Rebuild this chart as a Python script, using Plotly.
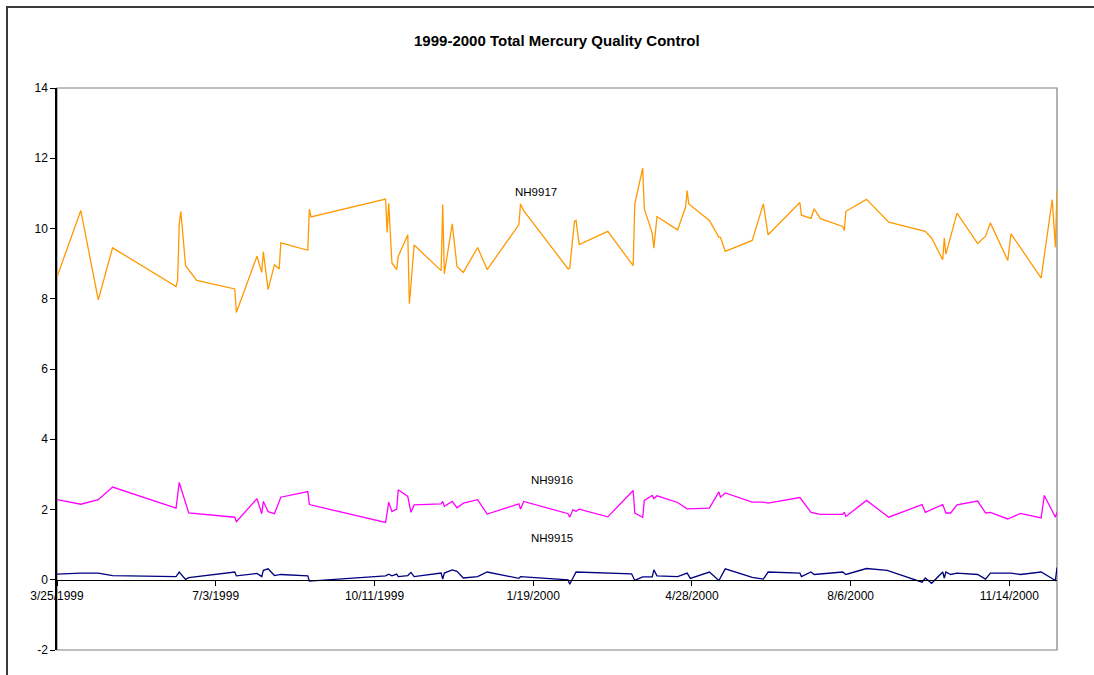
import plotly.graph_objects as go

# ---------------- data ----------------
dates_nh9917 = [
    "1999-03-25", "1999-04-09", "1999-04-20", "1999-04-29", "1999-06-08", "1999-06-09",
    "1999-06-10", "1999-06-11", "1999-06-14", "1999-06-21", "1999-07-15", "1999-07-16",
    "1999-07-29", "1999-08-01", "1999-08-02", "1999-08-05", "1999-08-09", "1999-08-12",
    "1999-08-13", "1999-08-30", "1999-08-31", "1999-09-01", "1999-10-18", "1999-10-19",
    "1999-10-20", "1999-10-22", "1999-10-25", "1999-10-26", "1999-11-01", "1999-11-02",
    "1999-11-03", "1999-11-05", "1999-11-22", "1999-11-23", "1999-11-24", "1999-11-29",
    "1999-12-02", "1999-12-06", "1999-12-15", "1999-12-21", "2000-01-10", "2000-01-11",
    "2000-01-13", "2000-02-10", "2000-02-11", "2000-02-14", "2000-02-15", "2000-02-17",
    "2000-03-06", "2000-03-22", "2000-03-23", "2000-03-28", "2000-03-29", "2000-04-03",
    "2000-04-04", "2000-04-06", "2000-04-19", "2000-04-24", "2000-04-25", "2000-04-26",
    "2000-05-09", "2000-05-15", "2000-05-16", "2000-05-19", "2000-06-05", "2000-06-12",
    "2000-06-15", "2000-07-05", "2000-07-06", "2000-07-12", "2000-07-14", "2000-07-18",
    "2000-08-01", "2000-08-02", "2000-08-03", "2000-08-16", "2000-08-30", "2000-09-22",
    "2000-09-26", "2000-10-03", "2000-10-04", "2000-10-05", "2000-10-12", "2000-10-25",
    "2000-10-30", "2000-11-02", "2000-11-13", "2000-11-15", "2000-12-04", "2000-12-11",
    "2000-12-13", "2000-12-14",
]
values_nh9917 = [
    8.62, 10.51, 7.97, 9.45, 8.35, 8.52,
    10.11, 10.49, 8.94, 8.52, 8.28, 7.61,
    9.21, 8.75, 9.34, 8.26, 8.97, 8.85,
    9.59, 9.38, 10.55, 10.33, 10.84, 9.89,
    10.72, 9.02, 8.83, 9.21, 9.82, 7.86,
    8.40, 9.53, 8.80, 10.68, 8.71, 10.13,
    8.92, 8.75, 9.46, 8.83, 10.11, 10.70,
    10.51, 8.85, 8.87, 10.20, 10.23, 9.54,
    9.92, 8.94, 10.70, 11.72, 10.56, 9.87,
    9.44, 10.34, 9.96, 10.61, 11.08, 10.70,
    10.23, 9.75, 9.75, 9.35, 9.66, 10.70,
    9.82, 10.74, 10.38, 10.29, 10.56, 10.28,
    10.06, 9.94, 10.49, 10.83, 10.18, 9.92,
    9.73, 9.11, 9.73, 9.27, 10.44, 9.57,
    9.78, 10.16, 9.09, 9.85, 8.59, 10.82,
    9.47, 11.08,
]

dates_nh9916 = [
    "1999-03-25", "1999-04-09", "1999-04-20", "1999-04-29", "1999-06-08", "1999-06-10",
    "1999-06-16", "1999-07-15", "1999-07-16", "1999-07-29", "1999-08-01", "1999-08-02",
    "1999-08-05", "1999-08-09", "1999-08-13", "1999-08-30", "1999-08-31", "1999-10-18",
    "1999-10-20", "1999-10-22", "1999-10-25", "1999-10-26", "1999-11-01", "1999-11-03",
    "1999-11-05", "1999-11-22", "1999-11-23", "1999-11-24", "1999-11-29", "1999-12-02",
    "1999-12-06", "1999-12-15", "1999-12-21", "2000-01-10", "2000-01-11", "2000-01-13",
    "2000-02-10", "2000-02-11", "2000-02-13", "2000-02-15", "2000-02-17", "2000-03-06",
    "2000-03-22", "2000-03-23", "2000-03-28", "2000-03-29", "2000-04-03", "2000-04-04",
    "2000-04-06", "2000-04-19", "2000-04-25", "2000-05-09", "2000-05-15", "2000-05-16",
    "2000-05-19", "2000-06-05", "2000-06-12", "2000-06-15", "2000-07-05", "2000-07-12",
    "2000-07-18", "2000-08-01", "2000-08-02", "2000-08-03", "2000-08-16", "2000-08-30",
    "2000-09-20", "2000-09-22", "2000-10-03", "2000-10-05", "2000-10-08", "2000-10-12",
    "2000-10-25", "2000-10-30", "2000-11-02", "2000-11-13", "2000-11-21", "2000-12-04",
    "2000-12-06", "2000-12-13", "2000-12-14",
]
values_nh9916 = [
    2.28, 2.15, 2.28, 2.64, 2.04, 2.77,
    1.90, 1.78, 1.65, 2.31, 1.88, 2.23,
    1.94, 1.88, 2.35, 2.51, 2.14, 1.63,
    2.21, 1.94, 2.01, 2.56, 2.37, 1.92,
    2.13, 2.16, 2.23, 2.09, 2.23, 2.05,
    2.18, 2.28, 1.87, 2.16, 2.01, 2.23,
    1.88, 1.78, 1.99, 1.95, 2.01, 1.79,
    2.54, 1.90, 1.78, 2.26, 2.40, 2.31,
    2.39, 2.20, 2.02, 2.04, 2.50, 2.35,
    2.47, 2.21, 2.21, 2.18, 2.34, 1.92,
    1.86, 1.86, 1.92, 1.80, 2.26, 1.78,
    2.14, 1.92, 2.14, 1.90, 1.90, 2.13,
    2.24, 1.90, 1.92, 1.73, 1.89, 1.76,
    2.40, 1.78, 1.92,
]

dates_nh9915 = [
    "1999-03-25", "1999-04-09", "1999-04-20", "1999-04-29", "1999-06-08", "1999-06-10",
    "1999-06-14", "1999-06-16", "1999-07-15", "1999-07-16", "1999-07-29", "1999-08-01",
    "1999-08-02", "1999-08-05", "1999-08-09", "1999-08-13", "1999-08-30", "1999-08-31",
    "1999-10-18", "1999-10-20", "1999-10-22", "1999-10-25", "1999-10-26", "1999-11-01",
    "1999-11-03", "1999-11-05", "1999-11-22", "1999-11-23", "1999-11-24", "1999-11-29",
    "1999-12-02", "1999-12-06", "1999-12-15", "1999-12-21", "2000-01-10", "2000-01-11",
    "2000-02-10", "2000-02-11", "2000-02-15", "2000-03-21", "2000-03-23", "2000-03-28",
    "2000-04-03", "2000-04-04", "2000-04-06", "2000-04-19", "2000-04-25", "2000-04-27",
    "2000-05-09", "2000-05-15", "2000-05-19", "2000-06-05", "2000-06-12", "2000-06-15",
    "2000-07-05", "2000-07-06", "2000-07-12", "2000-07-14", "2000-08-01", "2000-08-03",
    "2000-08-16", "2000-08-29", "2000-09-20", "2000-09-22", "2000-09-26", "2000-10-03",
    "2000-10-04", "2000-10-05", "2000-10-08", "2000-10-12", "2000-10-25", "2000-10-30",
    "2000-11-02", "2000-11-15", "2000-11-21", "2000-12-04", "2000-12-13", "2000-12-14",
]
values_nh9915 = [
    0.16, 0.19, 0.19, 0.12, 0.09, 0.22,
    0.01, 0.06, 0.22, 0.11, 0.18, 0.09,
    0.27, 0.31, 0.12, 0.15, 0.11, -0.04,
    0.11, 0.16, 0.11, 0.16, 0.09, 0.12,
    0.21, 0.09, 0.19, 0.02, 0.19, 0.28,
    0.24, 0.05, 0.09, 0.22, 0.04, 0.09,
    0.00, -0.13, 0.22, 0.17, -0.02, 0.08,
    0.08, 0.28, 0.11, 0.09, 0.19, 0.04,
    0.22, -0.02, 0.31, 0.07, 0.02, 0.22,
    0.19, 0.09, 0.22, 0.15, 0.22, 0.15,
    0.32, 0.27, -0.07, 0.05, -0.10, 0.22,
    0.05, 0.22, 0.15, 0.19, 0.15, 0.02,
    0.19, 0.19, 0.15, 0.22, -0.02, 0.35,
]

tick_dates = ["1999-03-25", "1999-07-03", "1999-10-11", "2000-01-19",
              "2000-04-28", "2000-08-06", "2000-11-14"]
tick_labels = ["3/25/1999", "7/3/1999", "10/11/1999", "1/19/2000",
               "4/28/2000", "8/6/2000", "11/14/2000"]
y_tick_values = [-2, 0, 2, 4, 6, 8, 10, 12, 14]
y_tick_labels = ["-2", "0", "2", "4", "6", "8", "10", "12", "14"]

x_range = ["1999-03-25", "2000-12-14"]
y_range = [-2, 14]

series_names = ["NH9917", "NH9916", "NH9915"]
label_pos = [("2000-01-21", 11.03), ("2000-01-31", 2.85), ("2000-01-31", 1.2)]

# ---------------- figure ----------------
FONT = "Liberation Sans, Arial, sans-serif"
fig = go.Figure()

for name, xs, ys, col in [
    ("NH9917", dates_nh9917, values_nh9917, "#FF9900"),
    ("NH9916", dates_nh9916, values_nh9916, "#FF00FF"),
    ("NH9915", dates_nh9915, values_nh9915, "#000080"),
]:
    fig.add_trace(go.Scatter(x=xs, y=ys, mode="lines", name=name,
                             line=dict(color=col, width=1.3), showlegend=False))

for name, (lx, ly) in zip(series_names, label_pos):
    fig.add_annotation(x=lx, y=ly, text=name, showarrow=False,
                       font=dict(family=FONT, size=11.5, color="black"))

y_pos_zero = (0 - y_range[0]) / (y_range[1] - y_range[0])

fig.update_layout(
    width=1094, height=675,
    margin=dict(l=57, r=37, t=88, b=25),
    paper_bgcolor="white", plot_bgcolor="white",
    font=dict(family=FONT, size=12, color="black"),
    title=dict(text="<b>1999-2000 Total Mercury Quality Control</b>",
               x=0.509, xanchor="center", y=1 - 41 / 675, yanchor="middle",
               font=dict(family=FONT, size=15, color="black")),
    xaxis=dict(type="date", range=x_range, tickvals=tick_dates, ticktext=tick_labels,
               anchor="free", position=y_pos_zero,
               showline=True, linecolor="black", linewidth=1.2,
               ticks="outside", ticklen=5, tickcolor="black",
               showgrid=False, zeroline=False,
               tickfont=dict(family=FONT, size=12, color="black")),
    yaxis=dict(range=y_range, tickvals=y_tick_values, ticktext=y_tick_labels,
               showline=True, linecolor="black", linewidth=1.5,
               ticks="outside", ticklen=5, tickcolor="black",
               showgrid=False, zeroline=False,
               tickfont=dict(family=FONT, size=12, color="black")),
    shapes=[
        dict(type="rect", xref="paper", yref="paper", x0=0, x1=1, y0=0, y1=1,
             line=dict(color="#808080", width=1.2), layer="below"),
        dict(type="rect", xref="paper", yref="paper", x0=-0.05, x1=1.045,
             y0=-0.1, y1=1 + 81 / 562,
             line=dict(color="#3a3a3a", width=2), layer="below"),
    ],
)

fig.write_html("out.html", config={"displayModeBar": False},
               post_script="document.body.style.margin='0';")
